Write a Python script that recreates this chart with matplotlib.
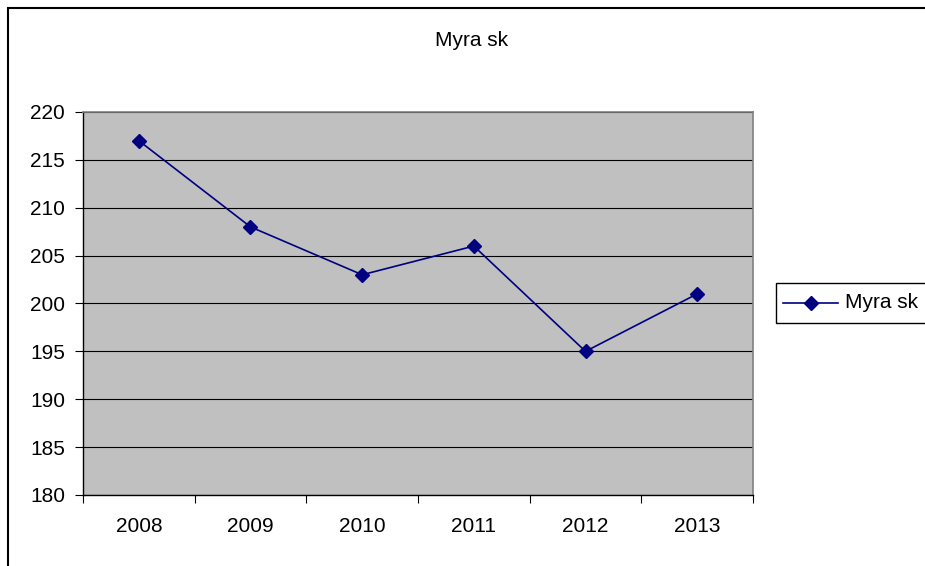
import matplotlib
matplotlib.use("Agg")
import matplotlib.pyplot as plt
from matplotlib.patches import Rectangle
from matplotlib.lines import Line2D

years = ["2008", "2009", "2010", "2011", "2012", "2013"]
values = [217, 208, 203, 206, 195, 201]
series_name = "Myra sk"
title = "Myra sk"
yticks = [180, 185, 190, 195, 200, 205, 210, 215, 220]

plt.rcParams['font.family'] = ['Liberation Sans', 'DejaVu Sans']

W, H = 925, 566
fig = plt.figure(figsize=(W / 100, H / 100), dpi=100)

FS = 15

# chart area border (cropped at right/bottom)
fig.patches.append(Rectangle((8 / W, -0.1), 1.2, (H - 8) / H + 0.1, transform=fig.transFigure,
                             fill=False, edgecolor='black', linewidth=1.5))

left, right, top, bottom = 83, 753, 112, 495
ax = fig.add_axes([left / W, 1 - bottom / H, (right - left) / W, (bottom - top) / H])
ax.set_facecolor('#C0C0C0')

x = list(range(len(years)))
ax.plot(x, values, color='#000080', marker='D', markersize=7, linewidth=1.2,
        label=series_name, zorder=3)

ax.set_xlim(-0.5, len(years) - 0.5)
ax.set_ylim(180, 220)
ax.set_yticks(yticks)
ax.set_yticklabels([str(v) for v in yticks], fontsize=FS)
ax.yaxis.grid(True, color='black', linewidth=0.8)
ax.set_axisbelow(True)

ax.set_xticks([i - 0.5 for i in range(len(years) + 1)])
ax.set_xticklabels([])
ax.set_xticks(x, minor=True)
ax.set_xticklabels(years, minor=True, fontsize=FS)
ax.tick_params(axis='x', which='minor', length=0, pad=16)
ax.tick_params(axis='x', which='major', length=6, direction='out', color='black')
ax.tick_params(axis='y', length=6, direction='out', pad=7)

for s in ['top', 'right']:
    ax.spines[s].set_color('#808080')
    ax.spines[s].set_linewidth(1.2)
for s in ['left', 'bottom']:
    ax.spines[s].set_color('black')
    ax.spines[s].set_linewidth(1.0)

fig.text(472 / W, 1 - 40 / H, title, ha='center', va='center', fontsize=FS)

# legend box (cropped at right)
fig.patches.append(Rectangle((776 / W, 1 - 323 / H), 0.3, 40 / H, transform=fig.transFigure,
                             fill=True, facecolor='white', edgecolor='black', linewidth=1.0))
fig.lines.append(Line2D([783 / W, 838 / W], [1 - 303 / H, 1 - 303 / H], transform=fig.transFigure,
                        color='#000080', linewidth=1.2))
fig.lines.append(Line2D([810.5 / W], [1 - 303 / H], transform=fig.transFigure,
                        color='#000080', marker='D', markersize=7, linestyle='none'))
fig.text(845 / W, 1 - 302 / H, series_name, ha='left', va='center', fontsize=FS)

fig.savefig("out.png", dpi=100)
